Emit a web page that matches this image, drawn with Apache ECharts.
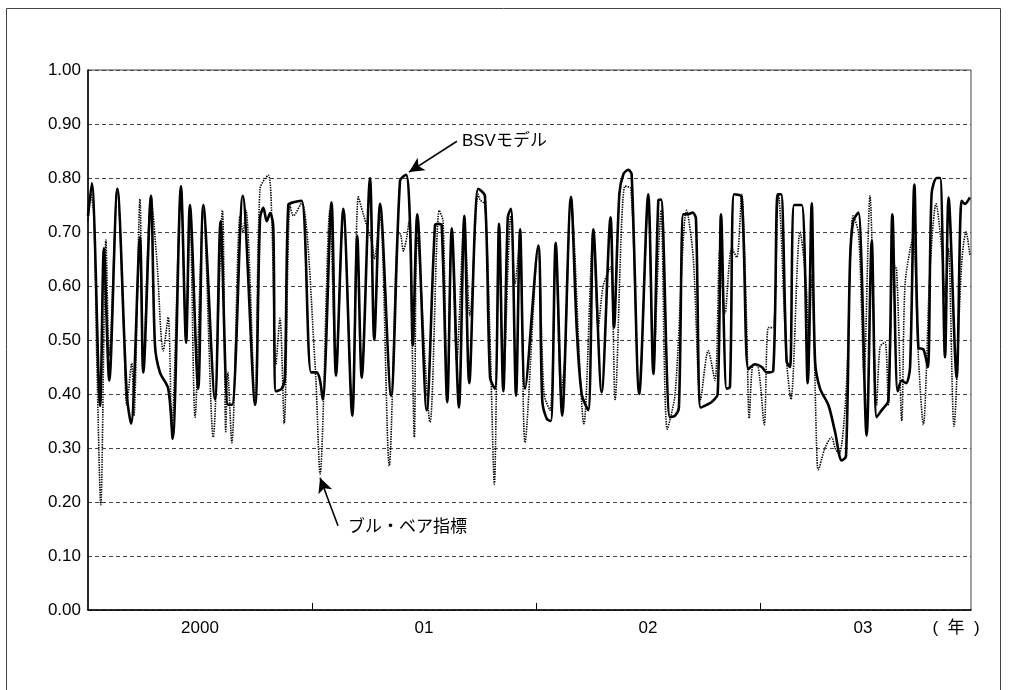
<!DOCTYPE html>
<html>
<head>
<meta charset="utf-8">
<script src="https://cdn.jsdelivr.net/npm/echarts@6/dist/echarts.min.js"></script>
<style>
html, body { margin: 0; padding: 0; background: #fff; }
#main { width: 1009px; height: 690px; }
</style>
</head>
<body>
<div id="main"></div>
<script>
var chart = echarts.init(document.getElementById('main'));

// BSVモデル [year, value]
var bsv = [
    [2000.000, 0.73], [2000.017, 0.79], [2000.054, 0.378], [2000.071, 0.67], [2000.095, 0.425],
    [2000.131, 0.78], [2000.173, 0.40], [2000.192, 0.345], [2000.232, 0.69], [2000.247, 0.44],
    [2000.281, 0.767], [2000.299, 0.49], [2000.321, 0.44], [2000.358, 0.41], [2000.378, 0.317],
    [2000.415, 0.785], [2000.438, 0.495], [2000.455, 0.75], [2000.492, 0.41], [2000.515, 0.75],
    [2000.567, 0.39], [2000.592, 0.72], [2000.625, 0.38], [2000.643, 0.38], [2000.691, 0.767],
    [2000.746, 0.38], [2000.768, 0.725], [2000.783, 0.745], [2000.798, 0.72], [2000.813, 0.735],
    [2000.827, 0.71], [2000.839, 0.405], [2000.865, 0.41], [2000.879, 0.43], [2000.894, 0.75],
    [2000.917, 0.755], [2000.954, 0.758], [2000.996, 0.44], [2001.021, 0.44], [2001.036, 0.425],
    [2001.048, 0.39], [2001.087, 0.755], [2001.107, 0.434], [2001.140, 0.743], [2001.180, 0.36],
    [2001.202, 0.693], [2001.222, 0.43], [2001.259, 0.80], [2001.278, 0.50], [2001.304, 0.752],
    [2001.353, 0.397], [2001.393, 0.795], [2001.420, 0.806], [2001.438, 0.71], [2001.450, 0.49],
    [2001.470, 0.733], [2001.512, 0.37], [2001.549, 0.712], [2001.564, 0.715], [2001.579, 0.712],
    [2001.604, 0.385], [2001.624, 0.707], [2001.656, 0.375], [2001.680, 0.73], [2001.702, 0.42],
    [2001.742, 0.78], [2001.772, 0.767], [2001.795, 0.43], [2001.817, 0.41], [2001.835, 0.715],
    [2001.854, 0.405], [2001.874, 0.727], [2001.888, 0.743], [2001.911, 0.397], [2001.929, 0.705],
    [2001.951, 0.41], [2002.010, 0.675], [2002.028, 0.388], [2002.048, 0.354], [2002.066, 0.35],
    [2002.088, 0.68], [2002.117, 0.36], [2002.156, 0.765], [2002.182, 0.52], [2002.204, 0.40],
    [2002.233, 0.37], [2002.256, 0.705], [2002.293, 0.403], [2002.333, 0.727], [2002.348, 0.523],
    [2002.372, 0.77], [2002.390, 0.807], [2002.412, 0.815], [2002.427, 0.807], [2002.461, 0.40],
    [2002.501, 0.77], [2002.524, 0.437], [2002.546, 0.758], [2002.558, 0.76], [2002.598, 0.357],
    [2002.621, 0.36], [2002.638, 0.375], [2002.658, 0.733], [2002.680, 0.733], [2002.699, 0.736],
    [2002.714, 0.725], [2002.735, 0.375], [2002.762, 0.38], [2002.784, 0.385], [2002.811, 0.40],
    [2002.826, 0.733], [2002.851, 0.41], [2002.866, 0.413], [2002.885, 0.77], [2002.918, 0.765],
    [2002.948, 0.446], [2002.978, 0.455], [2003.008, 0.45], [2003.030, 0.44], [2003.059, 0.443],
    [2003.079, 0.77], [2003.094, 0.77], [2003.119, 0.46], [2003.134, 0.45], [2003.153, 0.75],
    [2003.186, 0.75], [2003.213, 0.42], [2003.231, 0.753], [2003.246, 0.46], [2003.268, 0.41],
    [2003.305, 0.38], [2003.335, 0.33], [2003.365, 0.277], [2003.384, 0.285], [2003.402, 0.647],
    [2003.416, 0.72], [2003.439, 0.736], [2003.476, 0.323], [2003.499, 0.684], [2003.521, 0.357],
    [2003.543, 0.37], [2003.573, 0.388], [2003.591, 0.733], [2003.615, 0.405], [2003.633, 0.425],
    [2003.652, 0.42], [2003.670, 0.45], [2003.689, 0.788], [2003.707, 0.486], [2003.729, 0.483],
    [2003.749, 0.45], [2003.766, 0.77], [2003.789, 0.80], [2003.804, 0.80], [2003.826, 0.468],
    [2003.842, 0.764], [2003.878, 0.43], [2003.900, 0.758], [2003.915, 0.752], [2003.937, 0.764]
];

// ブル・ベア指標 [year, value]
var bullBear = [
    [2000.000, 0.72], [2000.013, 0.77], [2000.027, 0.72], [2000.040, 0.45], [2000.057, 0.195],
    [2000.080, 0.685], [2000.095, 0.47], [2000.131, 0.78], [2000.161, 0.50], [2000.173, 0.38],
    [2000.195, 0.457], [2000.205, 0.36], [2000.232, 0.761], [2000.246, 0.44], [2000.281, 0.765],
    [2000.307, 0.65], [2000.336, 0.48], [2000.358, 0.542], [2000.374, 0.337], [2000.415, 0.78],
    [2000.438, 0.50], [2000.455, 0.745], [2000.478, 0.357], [2000.515, 0.74], [2000.559, 0.32],
    [2000.600, 0.74], [2000.615, 0.33], [2000.624, 0.44], [2000.642, 0.31], [2000.679, 0.73],
    [2000.692, 0.70], [2000.705, 0.74], [2000.746, 0.38], [2000.768, 0.78], [2000.805, 0.805],
    [2000.820, 0.73], [2000.839, 0.455], [2000.857, 0.54], [2000.876, 0.345], [2000.902, 0.75],
    [2000.917, 0.73], [2000.954, 0.755], [2001.013, 0.46], [2001.036, 0.252], [2001.080, 0.74],
    [2001.107, 0.44], [2001.140, 0.74], [2001.180, 0.36], [2001.207, 0.765], [2001.229, 0.733],
    [2001.246, 0.71], [2001.268, 0.68], [2001.278, 0.65], [2001.304, 0.73], [2001.345, 0.267],
    [2001.385, 0.70], [2001.396, 0.695], [2001.408, 0.665], [2001.423, 0.69], [2001.433, 0.72],
    [2001.457, 0.32], [2001.470, 0.69], [2001.527, 0.348], [2001.568, 0.74], [2001.585, 0.72],
    [2001.604, 0.40], [2001.624, 0.70], [2001.646, 0.46], [2001.680, 0.72], [2001.705, 0.545],
    [2001.742, 0.77], [2001.750, 0.76], [2001.772, 0.75], [2001.795, 0.50], [2001.814, 0.233],
    [2001.835, 0.70], [2001.854, 0.42], [2001.888, 0.73], [2001.906, 0.604], [2001.929, 0.69],
    [2001.951, 0.31], [2002.010, 0.67], [2002.036, 0.40], [2002.063, 0.37], [2002.088, 0.67],
    [2002.112, 0.40], [2002.129, 0.468], [2002.156, 0.76], [2002.214, 0.345], [2002.256, 0.70],
    [2002.278, 0.523], [2002.300, 0.60], [2002.333, 0.635], [2002.353, 0.39], [2002.397, 0.785],
    [2002.424, 0.78], [2002.461, 0.40], [2002.501, 0.76], [2002.524, 0.44], [2002.546, 0.653],
    [2002.558, 0.74], [2002.586, 0.335], [2002.621, 0.40], [2002.673, 0.74], [2002.702, 0.653],
    [2002.735, 0.39], [2002.769, 0.48], [2002.799, 0.425], [2002.821, 0.67], [2002.844, 0.55],
    [2002.874, 0.67], [2002.896, 0.653], [2002.918, 0.77], [2002.941, 0.52], [2002.952, 0.355],
    [2002.970, 0.455], [2002.992, 0.45], [2003.019, 0.343], [2003.037, 0.523], [2003.059, 0.523],
    [2003.082, 0.77], [2003.119, 0.46], [2003.138, 0.39], [2003.179, 0.70], [2003.208, 0.59],
    [2003.216, 0.44], [2003.231, 0.62], [2003.253, 0.30], [2003.260, 0.26], [2003.290, 0.30],
    [2003.320, 0.32], [2003.335, 0.30], [2003.353, 0.289], [2003.384, 0.40], [2003.416, 0.73],
    [2003.439, 0.70], [2003.454, 0.55], [2003.464, 0.43], [2003.491, 0.767], [2003.521, 0.38],
    [2003.536, 0.487], [2003.558, 0.496], [2003.573, 0.38], [2003.595, 0.64], [2003.610, 0.63],
    [2003.633, 0.35], [2003.647, 0.60], [2003.670, 0.668], [2003.684, 0.69], [2003.707, 0.47],
    [2003.729, 0.343], [2003.759, 0.63], [2003.786, 0.752], [2003.811, 0.67], [2003.826, 0.58],
    [2003.841, 0.67], [2003.866, 0.34], [2003.900, 0.64], [2003.920, 0.70], [2003.937, 0.657]
];

var yearTicks = [2001, 2002, 2003];
var yearLabelPos = [2000.5, 2001.5, 2002.5, 2003.46];
var yearLabels = ['2000', '01', '02', '03'];

// 注記 [矢印の始点, 矢印の先]
var bsvNote = { text: 'BSVモデル', from: [2001.647, 0.868], to: [2001.433, 0.811] };
var bbNote = { text: 'ブル・ベア指標', from: [2001.116, 0.156], to: [2001.036, 0.245] };

var FONT = '"Liberation Sans", "Noto Sans CJK JP", Arial, sans-serif';

function arrow(note) {
    return {
        silent: true,
        animation: false,
        symbol: ['none', 'arrow'],
        symbolSize: [11, 15],
        label: { show: false },
        lineStyle: { color: '#000', width: 1.6, type: 'solid' },
        data: [[{ coord: note.from }, { coord: note.to }]]
    };
}

option = {
    animation: false,
    backgroundColor: '#fff',
    grid: {
        left: 88,
        right: 38,
        top: 70,
        bottom: 80,
        show: true,
        borderColor: '#444',
        borderWidth: 1
    },
    xAxis: {
        type: 'value',
        min: 2000,
        max: 2003.942,
        axisLine: { show: true, lineStyle: { color: '#000', width: 1.5 } },
        axisTick: {
            show: true,
            inside: true,
            length: 7,
            customValues: yearTicks,
            lineStyle: { color: '#000', width: 1 }
        },
        axisLabel: {
            customValues: yearLabelPos,
            margin: 10,
            color: '#000',
            fontSize: 17,
            fontFamily: FONT,
            formatter: function(v) {
                for (var i = 0; i < yearLabelPos.length; i++) {
                    if (Math.abs(yearLabelPos[i] - v) < 1e-6) return yearLabels[i];
                }
                return '';
            }
        },
        splitLine: { show: false }
    },
    yAxis: {
        type: 'value',
        min: 0,
        max: 1,
        interval: 0.1,
        axisLine: { show: true, lineStyle: { color: '#000', width: 1.5 } },
        axisTick: { show: false },
        axisLabel: {
            margin: 7,
            color: '#000',
            fontSize: 17,
            fontFamily: FONT,
            formatter: function(v) { return v.toFixed(2); }
        },
        splitLine: {
            show: true,
            lineStyle: { color: '#444', width: 1, type: [4, 3] }
        }
    },
    series: [{
            name: 'BSVモデル',
            type: 'line',
            data: bsv,
            showSymbol: false,
            smooth: 0.3,
            lineStyle: { color: '#000', width: 2.6 },
            markLine: arrow(bsvNote),
            z: 2
        },
        {
            name: 'ブル・ベア指標',
            type: 'line',
            data: bullBear,
            showSymbol: false,
            smooth: 0.3,
            lineStyle: { color: '#000', width: 1.6, type: [1.4, 1.1] },
            markLine: arrow(bbNote),
            z: 3
        }
    ]
};

chart.setOption(option);

// 注記の文字と外枠
var p1 = chart.convertToPixel({ gridIndex: 0 }, bsvNote.from);
var p2 = chart.convertToPixel({ gridIndex: 0 }, bbNote.from);
chart.setOption({
    graphic: [{
            type: 'rect',
            silent: true,
            shape: { x: 6.5, y: 8.5, width: 994, height: 700 },
            style: { fill: 'none', stroke: '#444', lineWidth: 1 }
        },
        {
            type: 'text',
            x: p1[0] + 5,
            y: p1[1],
            style: { text: bsvNote.text, font: '17px ' + FONT, fill: '#000', verticalAlign: 'middle' }
        },
        {
            type: 'text',
            x: p2[0] + 10,
            y: p2[1] + 2,
            style: { text: bbNote.text, font: '17px ' + FONT, fill: '#000', verticalAlign: 'middle' }
        },
        {
            type: 'text',
            x: 956,
            y: 628,
            style: { text: '(  年  )', font: '17px ' + FONT, fill: '#000', align: 'center', verticalAlign: 'middle' }
        }
    ]
});
</script>
</body>
</html>
